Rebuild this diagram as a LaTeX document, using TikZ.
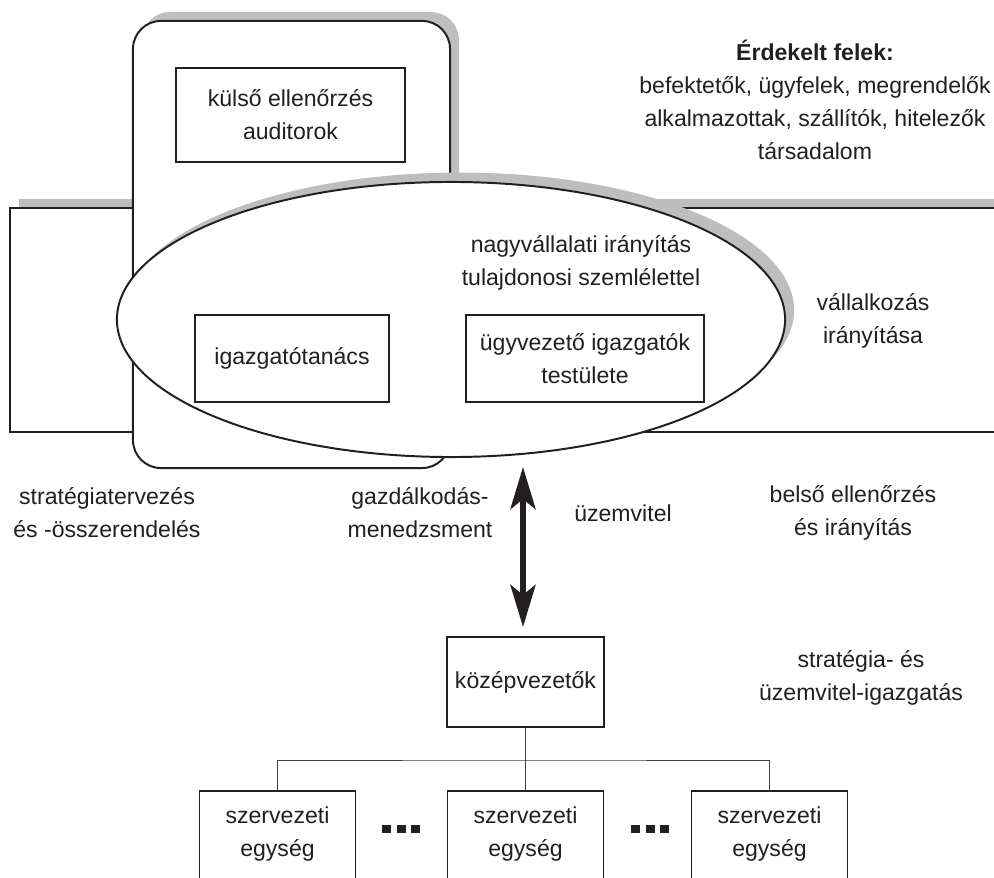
\documentclass[tikz,border=0pt]{standalone}
\usepackage{fontspec}
\setmainfont{Liberation Sans}
\usetikzlibrary{shapes.geometric,shadows,arrows.meta}
\definecolor{shd}{RGB}{188,190,192}
\definecolor{ink}{RGB}{35,31,32}
\begin{document}
\begin{tikzpicture}[x=0.025cm,y=-0.025cm,
  every node/.style={text=ink, font=\fontsize{16.4pt}{23.5pt}\selectfont, align=center, inner sep=0pt, outer sep=0pt},
  frame/.style={draw=ink, line width=1.4pt, fill=white},
  shadowed frame/.style={frame,
     general shadow={fill=shd, shadow xshift=0.225cm, shadow yshift=0.235cm}},
  box/.style={draw=ink, line width=1.3pt, fill=white},
  unitbox/.style={minimum width=3.9cm, minimum height=2.175cm},
  boxline/.style={draw=ink, line width=1.3pt},
  tree/.style={draw=ink!85, line width=0.6pt},
  dbl/.style={draw=ink, line width=4.3pt,
     {Stealth[length=1.05cm,width=0.625cm,inset=0.25cm]}-{Stealth[length=1.05cm,width=0.625cm,inset=0.25cm]}}
]
\useasboundingbox (0,0) rectangle (994,878);
\fill[white] (0,0) rectangle (994,878);
\clip (0,0) rectangle (994,878);

% large frames
\node[shadowed frame, minimum width=25cm, minimum height=5.6cm] (wide) at (510,320) {};
\begin{scope}
  \clip (0,0) rectangle (994,400);
  \fill[shd, rounded corners=0.7cm] (142,12) rectangle (459,459);
\end{scope}
\node[frame, rounded corners=0.7cm, minimum width=7.925cm, minimum height=11.175cm] (tall) at (291.5,244.5) {};
\node[shadowed frame, ellipse, minimum width=16.7cm, minimum height=6.875cm] (corp) at (451,319.5) {};

% boxes
\node[box, minimum width=5.725cm, minimum height=2.35cm] (ext) at (290.5,115) {külső ellenőrzés\\auditorok};
\node[box, minimum width=4.85cm, minimum height=2.175cm] (board) at (292,358.5) {igazgatótanács};
\node[box, minimum width=5.95cm, minimum height=2.175cm] (exec) at (585,358.5) {ügyvezető igazgatók\\testülete};
\node[box, minimum width=3.925cm, minimum height=2.25cm] (mid) at (525.5,682) {középvezetők};

% texts
\node (stake) at (815,100) {\textbf{Érdekelt felek:}\\befektetők, ügyfelek, megrendelők\\alkalmazottak, szállítók, hitelezők\\társadalom};
\node (corpgov) at (581,263) {nagyvállalati irányítás\\tulajdonosi szemlélettel};
\node (entgov) at (873,321) {vállalkozás\\irányítása};
\node (strat) at (107,513) {stratégiatervezés\\és -összerendelés};
\node (econ) at (420,513) {gazdálkodás-\\menedzsment};
\node (ops) at (623,513) {üzemvitel};
\node (intctl) at (853,513) {belső ellenőrzés\\és irányítás};
\node (stratops) at (861,678) {stratégia- és\\üzemvitel-igazgatás};

% double arrow
\coordinate (atop) at (523,467);
\draw[dbl, shorten >=0.25cm] (atop) -- (atop |- mid.north);

% organisational units
\node[unitbox] (u1) at (277.5,834.5) {szervezeti\\egység};
\node[unitbox] (u2) at (525.5,834.5) {szervezeti\\egység};
\node[unitbox] (u3) at (769.5,834.5) {szervezeti\\egység};
\foreach \u in {u1,u2,u3}
  \draw[boxline] (\u.south west) -- (\u.north west) -- (\u.north east) -- (\u.south east);

% tree
\coordinate (bus) at (525.5,760);
\draw[tree] (mid.south) -- (u2.north);
\draw[tree] (u1.north) |- (bus) -| (u3.north);

% dots
\foreach \x in {382,396.5,411,631,645.5,660}
  \fill[ink] (\x,825) rectangle +(9,8);
\end{tikzpicture}
\end{document}
